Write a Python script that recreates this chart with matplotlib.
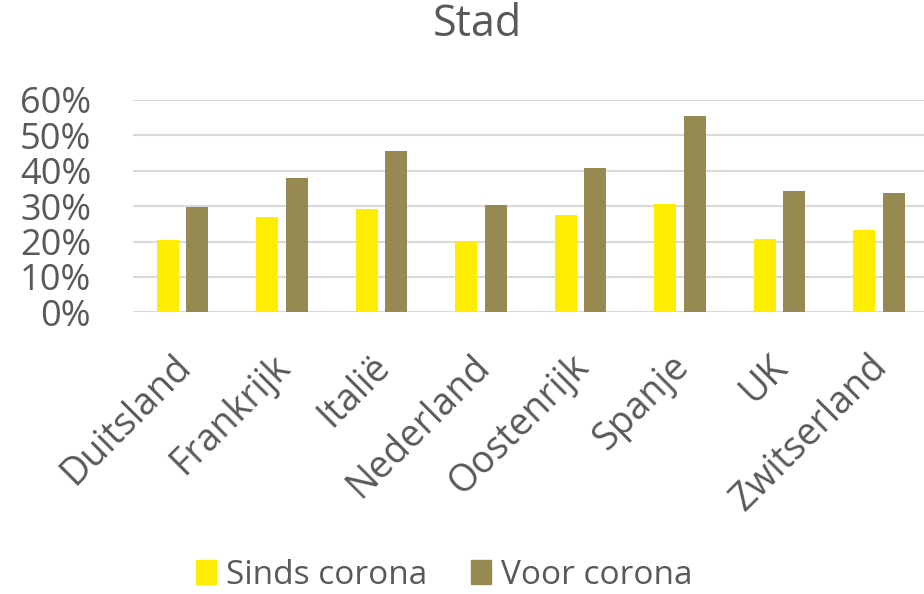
import matplotlib.pyplot as plt
import numpy as np
from matplotlib.patches import Patch
from matplotlib.ticker import PercentFormatter
import matplotlib.transforms as mtransforms

plt.rcParams['font.family'] = ['Open Sans', 'DejaVu Sans']

landen = ['Duitsland', 'Frankrijk', 'Italië', 'Nederland',
          'Oostenrijk', 'Spanje', 'UK', 'Zwitserland']
sinds_corona = [0.203, 0.269, 0.293, 0.200, 0.276, 0.306, 0.206, 0.233]
voor_corona = [0.299, 0.379, 0.455, 0.302, 0.407, 0.555, 0.343, 0.338]

geel = '#FFED00'
olijf = '#968952'
grijs = '#595959'

fig = plt.figure(figsize=(9.24, 5.94), dpi=100)
ax = fig.add_axes([132.75 / 924, 1 - 312.3 / 594, 796 / 924, 212.3 / 594])

x = np.arange(len(landen))
w = 0.221
ax.bar(x - 0.146, sinds_corona, w, color=geel, zorder=3)
ax.bar(x + 0.146, voor_corona, w, color=olijf, zorder=3)

ax.set_xlim(-0.5, len(landen) - 0.5)
ax.set_ylim(0, 0.6)
ax.set_yticks(np.arange(0, 0.61, 0.1))
ax.yaxis.set_major_formatter(PercentFormatter(1.0, decimals=0))
ax.grid(axis='y', color='#D9D9D9', linewidth=1.5, zorder=0)
for s in ax.spines.values():
    s.set_visible(False)
ax.tick_params(axis='y', length=0, pad=30, labelsize=26, labelcolor=grijs)
ax.tick_params(axis='x', length=0, pad=8, labelsize=27, labelcolor=grijs)

ax.set_xticks(x)
ax.set_xticklabels(landen, rotation=45, ha='right', va='center',
                   rotation_mode='anchor')
# labels schuin onder de groepen, zoals in Excel
offset = mtransforms.ScaledTranslation(2 / 72, -27 / 72, fig.dpi_scale_trans)
for lbl in ax.get_xticklabels():
    lbl.set_transform(lbl.get_transform() + offset)

fig.text(477 / 924, 1 - 36 / 594, 'Stad', ha='center', va='baseline',
         fontsize=31, color=grijs)

handles = [Patch(color=geel, label='Sinds corona'),
           Patch(color=olijf, label='Voor corona')]
fig.legend(handles=handles, loc='center', bbox_to_anchor=(444 / 924, 1 - 575 / 594),
           ncol=2, frameon=False, fontsize=24, labelcolor=grijs,
           handlelength=0.6, handleheight=0.7, handletextpad=0.3,
           columnspacing=1.3)

fig.savefig('out.png', dpi=100)
